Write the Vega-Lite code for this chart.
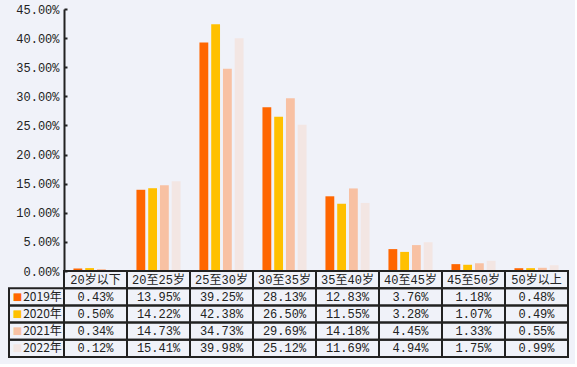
{
  "$schema": "https://vega.github.io/schema/vega-lite/v6.json",
  "background": "#f0f2f9",
  "padding": {"left": 8, "top": 3, "right": 5, "bottom": 5},
  "config": {"view": {"stroke": null}, "font": "Liberation Mono"},
  "datasets": {
    "d": [
      {"cat": "20岁以下", "year": "2019年", "value": 0.0043},
      {"cat": "20至25岁", "year": "2019年", "value": 0.1395},
      {"cat": "25至30岁", "year": "2019年", "value": 0.3925},
      {"cat": "30至35岁", "year": "2019年", "value": 0.2813},
      {"cat": "35至40岁", "year": "2019年", "value": 0.1283},
      {"cat": "40至45岁", "year": "2019年", "value": 0.0376},
      {"cat": "45至50岁", "year": "2019年", "value": 0.0118},
      {"cat": "50岁以上", "year": "2019年", "value": 0.0048},
      {"cat": "20岁以下", "year": "2020年", "value": 0.0050},
      {"cat": "20至25岁", "year": "2020年", "value": 0.1422},
      {"cat": "25至30岁", "year": "2020年", "value": 0.4238},
      {"cat": "30至35岁", "year": "2020年", "value": 0.2650},
      {"cat": "35至40岁", "year": "2020年", "value": 0.1155},
      {"cat": "40至45岁", "year": "2020年", "value": 0.0328},
      {"cat": "45至50岁", "year": "2020年", "value": 0.0107},
      {"cat": "50岁以上", "year": "2020年", "value": 0.0049},
      {"cat": "20岁以下", "year": "2021年", "value": 0.0034},
      {"cat": "20至25岁", "year": "2021年", "value": 0.1473},
      {"cat": "25至30岁", "year": "2021年", "value": 0.3473},
      {"cat": "30至35岁", "year": "2021年", "value": 0.2969},
      {"cat": "35至40岁", "year": "2021年", "value": 0.1418},
      {"cat": "40至45岁", "year": "2021年", "value": 0.0445},
      {"cat": "45至50岁", "year": "2021年", "value": 0.0133},
      {"cat": "50岁以上", "year": "2021年", "value": 0.0055},
      {"cat": "20岁以下", "year": "2022年", "value": 0.0012},
      {"cat": "20至25岁", "year": "2022年", "value": 0.1541},
      {"cat": "25至30岁", "year": "2022年", "value": 0.3998},
      {"cat": "30至35岁", "year": "2022年", "value": 0.2512},
      {"cat": "35至40岁", "year": "2022年", "value": 0.1169},
      {"cat": "40至45岁", "year": "2022年", "value": 0.0494},
      {"cat": "45至50岁", "year": "2022年", "value": 0.0175},
      {"cat": "50岁以上", "year": "2022年", "value": 0.0099}
    ]
  },
  "columns": 2,
  "spacing": 0,
  "bounds": "flush",
  "concat": [
    {
      "width": 55,
      "height": 262,
      "data": {"values": []},
      "mark": "rect",
      "encoding": {}
    },
    {
      "width": 504,
      "height": 262,
      "data": {"name": "d"},
      "mark": {"type": "bar"},
      "encoding": {
        "x": {"field": "cat", "type": "nominal", "sort": ["20岁以下", "20至25岁", "25至30岁", "30至35岁", "35至40岁", "40至45岁", "45至50岁", "50岁以上"], "scale": {"paddingInner": 0.3, "paddingOuter": 0.15}, "axis": null},
        "xOffset": {"field": "year", "type": "nominal", "sort": ["2019年", "2020年", "2021年", "2022年"], "scale": {"paddingInner": 0.25, "paddingOuter": 0}},
        "y": {"field": "value", "type": "quantitative", "scale": {"domain": [0, 0.45], "nice": false},
          "axis": {"format": ".2%", "values": [0, 0.05, 0.1, 0.15, 0.2, 0.25, 0.3, 0.35, 0.4, 0.45], "grid": false, "domainColor": "#222", "domainWidth": 2, "tickColor": "#222", "tickWidth": 2, "tickSize": -3, "labelPadding": 8, "labelFont": "Liberation Mono", "labelFontSize": 12, "labelColor": "#222", "title": null}},
        "color": {"field": "year", "type": "nominal", "scale": {"domain": ["2019年", "2020年", "2021年", "2022年"], "range": ["#ff6600", "#ffc000", "#f8c1a3", "#f3e6e3"]}, "legend": null}
      }
    },
    {
      "width": 55,
      "height": 86,
      "data": {"name": "d"},
      "transform": [{"filter": "datum.cat == '20岁以下'"}],
      "encoding": {
        "y": {"field": "year", "type": "nominal", "scale": {"domain": ["hdr", "2019年", "2020年", "2021年", "2022年"], "padding": 0}, "axis": null}
      },
      "layer": [
        {"mark": {"type": "rect", "fill": "white", "fillOpacity": 0, "stroke": "#222", "strokeWidth": 2}},
        {"mark": {"type": "text", "text": "■", "dx": -19, "fontSize": 10, "font": "DejaVu Sans"},
          "encoding": {"color": {"field": "year", "type": "nominal", "scale": {"domain": ["2019年", "2020年", "2021年", "2022年"], "range": ["#ff6600", "#ffc000", "#f8c1a3", "#f3e6e3"]}, "legend": null}}},
        {"mark": {"type": "text", "dx": 6, "font": "Noto Sans CJK SC", "fontSize": 12, "color": "#222"},
          "encoding": {"text": {"field": "year"}}}
      ]
    },
    {
      "width": 504,
      "height": 86,
      "view": {"stroke": "#222", "strokeWidth": 2},
      "data": {"name": "d"},
      "encoding": {
        "x": {"field": "cat", "type": "nominal", "sort": ["20岁以下", "20至25岁", "25至30岁", "30至35岁", "35至40岁", "40至45岁", "45至50岁", "50岁以上"], "scale": {"padding": 0}, "axis": null}
      },
      "layer": [
        {"mark": {"type": "rect", "fill": "white", "fillOpacity": 0, "stroke": "#222", "strokeWidth": 2},
          "encoding": {"y": {"field": "year", "type": "nominal", "scale": {"domain": ["hdr", "2019年", "2020年", "2021年", "2022年"], "padding": 0}, "axis": null}}},
        {"transform": [{"filter": "datum.year == '2019年'"}],
          "mark": {"type": "rect", "fill": "white", "fillOpacity": 0, "stroke": "#222", "strokeWidth": 2},
          "encoding": {"y": {"datum": "hdr", "type": "nominal"}}},
        {"mark": {"type": "text", "font": "Liberation Mono", "fontSize": 12, "color": "#222"},
          "encoding": {"y": {"field": "year", "type": "nominal"}, "text": {"field": "value", "type": "quantitative", "format": ".2%"}}},
        {"transform": [{"filter": "datum.year == '2019年'"}],
          "mark": {"type": "text", "font": "Liberation Mono, Noto Sans CJK SC", "fontSize": 12, "color": "#222"},
          "encoding": {"y": {"datum": "hdr", "type": "nominal"}, "text": {"field": "cat"}}}
      ]
    }
  ]
}
